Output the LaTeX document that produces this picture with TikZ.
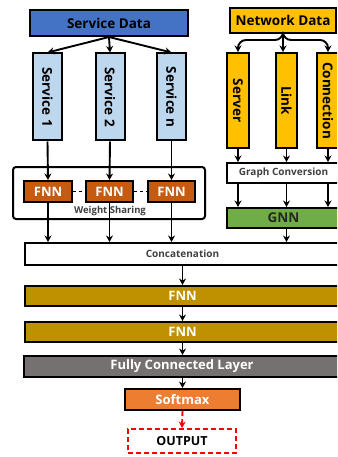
\documentclass[tikz,border=0pt]{standalone}
\usepackage{fontspec}
\setmainfont{Open Sans}
\usetikzlibrary{arrows.meta}
\definecolor{sdblue}{HTML}{4472C4}
\definecolor{svblue}{HTML}{BDD7EE}
\definecolor{ndgold}{HTML}{FFC000}
\definecolor{gnngreen}{HTML}{70AD47}
\definecolor{fnnorange}{HTML}{C55A11}
\definecolor{bargold}{HTML}{BF9000}
\definecolor{fcgray}{HTML}{767171}
\definecolor{smorange}{HTML}{ED7D31}
\definecolor{txtgray}{HTML}{404040}
\newcommand{\fsz}[1]{\fontsize{#1}{#1}\selectfont\bfseries}
\tikzset{
  blk/.style={draw=black, line width=2pt, inner sep=0pt, anchor=center},
  arr/.style={line width=1.9pt, -{Stealth[length=6.5pt,width=7pt]}},
  reddash/.style={dash pattern=on 5pt off 3pt},
}
\begin{document}
\begin{tikzpicture}[x=1pt,y=-1pt]
\clip (0,0) rectangle (337,457);
\fill[white] (0,0) rectangle (337,457);
% service side
\node[blk, fill=sdblue, minimum width=158pt, minimum height=26pt] (sd) at (109,23) {\fsz{13.5}Service Data};
\node[blk, fill=svblue, minimum width=29pt, minimum height=87pt] (s1) at (47.5,97) {\rotatebox{-90}{\fsz{13.5}Service 1}};
\node[blk, fill=svblue, minimum width=29pt, minimum height=87pt] (s2) at (110,97) {\rotatebox{-90}{\fsz{13.5}Service 2}};
\node[blk, fill=svblue, minimum width=29pt, minimum height=87pt] (sn) at (171.5,97) {\rotatebox{-90}{\fsz{13.5}Service n}};
\draw[arr] (sd.south) -- (s1.north);
\draw[arr] (sd.south) -- (s2.north);
\draw[arr] (sd.south) -- (sn.north);
% weight sharing
\node[blk, rounded corners=3pt, fill=white, minimum width=192pt, minimum height=52pt] (ws) at (109,193) {};
\node[blk, fill=fnnorange, minimum width=48pt, minimum height=21pt] (fa) at (48,191.5) {\color{white}\fsz{13}FNN};
\node[blk, fill=fnnorange, minimum width=47pt, minimum height=21pt] (fb) at (109.5,191.5) {\color{white}\fsz{13}FNN};
\node[blk, fill=fnnorange, minimum width=47pt, minimum height=21pt] (fc) at (171.5,191.5) {\color{white}\fsz{13}FNN};
\draw[line width=0.9pt, dash pattern=on 3pt off 3pt] (fa.east) -- (fb.west);
\draw[line width=0.9pt, dash pattern=on 3pt off 3pt] (fb.east) -- (fc.west);
\node[inner sep=0pt, text=txtgray] (wst) at (110,211) {\fsz{9.5}Weight Sharing};
\draw[arr] (s1.south) -- (fa.north);
\draw[arr] (s2.south) -- (fb.north);
\draw[arr] (sn.south) -- (fc.north);
% network side
\node[blk, fill=ndgold, minimum width=106pt, minimum height=25pt] (nd) at (283,20.5) {\fsz{13.5}Network Data};
\node[blk, fill=ndgold, minimum width=22pt, minimum height=95pt] (srv) at (238,100.5) {\rotatebox{-90}{\fsz{13.5}Server}};
\node[blk, fill=ndgold, minimum width=21pt, minimum height=95pt] (lnk) at (286.5,100.5) {\rotatebox{-90}{\fsz{13.5}Link}};
\node[blk, fill=ndgold, minimum width=22pt, minimum height=95pt] (con) at (328,100.5) {\rotatebox{-90}{\fsz{13.5}Connection}};
\draw[arr, rounded corners=8pt] (nd.south) -- ++(0,6) -| (srv.north);
\draw[arr, rounded corners=8pt] (nd.south) -- ++(0,6) -| (con.north);
\draw[arr] (nd.south) -- (nd.south |- lnk.north);
\node[blk, fill=white, minimum width=113pt, minimum height=20pt, text=txtgray] (gc) at (283.5,173) {\fsz{10}Graph Conversion};
\node[blk, fill=gnngreen, minimum width=113pt, minimum height=20pt, text=black!85] (gnn) at (283.5,218) {\fsz{13.5}GNN};
\draw[arr] (srv.south) -- (srv.south |- gc.north);
\draw[arr] (lnk.south) -- (lnk.south |- gc.north);
\draw[arr] (con.south) -- (con.south |- gc.north);
\coordinate (g1) at (srv.south |- gc.south);
\coordinate (g2) at (lnk.south |- gc.south);
\coordinate (g3) at (con.south |- gc.south);
\draw[arr] (g1) -- (g1 |- gnn.north);
\draw[arr] (g2) -- (g2 |- gnn.north);
\draw[arr] (g3) -- (g3 |- gnn.north);
% main trunk
\node[blk, fill=white, minimum width=315pt, minimum height=22pt, text=txtgray] (cat) at (182.5,254) {\fsz{10}Concatenation};
\draw[arr] (fa.south) -- (fa.south |- cat.north);
\draw[arr] (fb.south) -- (fb.south |- cat.north);
\draw[arr] (fc.south) -- (fc.south |- cat.north);
\coordinate (gn) at (lnk.south |- gnn.south);
\draw[arr] (gn) -- (gn |- cat.north);
\node[blk, fill=bargold, minimum width=315pt, minimum height=20pt] (f1) at (182.5,296) {\color{white}\fsz{13}FNN};
\node[blk, fill=bargold, minimum width=315pt, minimum height=20pt] (f2) at (182.5,332) {\color{white}\fsz{13}FNN};
\node[blk, fill=fcgray, minimum width=316pt, minimum height=21pt] (fcl) at (182,366.5) {\color{white}\fsz{13}Fully Connected Layer};
\node[blk, fill=smorange, minimum width=115pt, minimum height=21pt] (sm) at (182.5,399.5) {\color{white}\fsz{13}Softmax};
\node[blk, draw=red, reddash, fill=white, minimum width=108pt, minimum height=24pt] (out) at (182,441) {\fsz{12.5}OUTPUT};
\draw[arr] (cat.south) -- (f1.north);
\draw[arr] (f1.south) -- (f2.north);
\draw[arr] (f2.south) -- (f2.south |- fcl.north);
\draw[arr] (fcl.south -| sm.north) -- (sm.north);
\draw[arr, red, reddash] (sm.south) -- (out.north);
\end{tikzpicture}
\end{document}
